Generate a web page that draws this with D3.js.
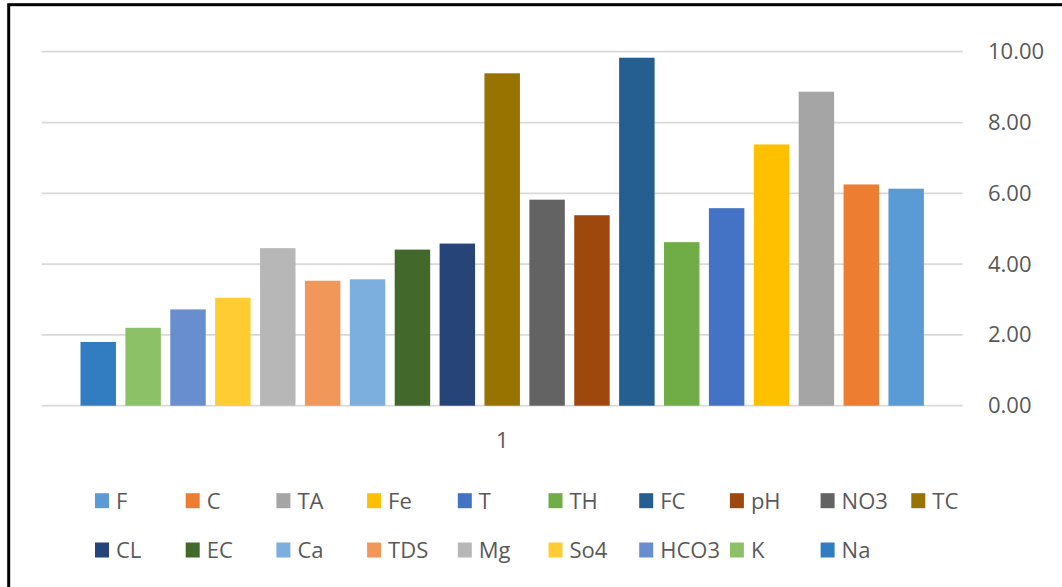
<!DOCTYPE html>
<html>
<head>
<meta charset="utf-8">
<script src="https://cdn.jsdelivr.net/npm/d3@7"></script>
<style>
  html, body { margin: 0; padding: 0; background: #fff; }
  svg { display: block; }
  text { font-family: "Open Sans", "Noto Sans", sans-serif; fill: #595959; }
</style>
</head>
<body>
<svg id="chart" width="1062" height="587"></svg>
<script>
// Parameters in legend order
const params = ["F", "C", "TA", "Fe", "T", "TH", "FC", "pH", "NO3", "TC",
                "CL", "EC", "Ca", "TDS", "Mg", "So4", "HCO3", "K", "Na"];
const values = [6.13, 6.25, 8.87, 7.38, 5.58, 4.62, 9.83, 5.38, 5.82, 9.39,
                4.58, 4.41, 3.57, 3.53, 4.45, 3.05, 2.72, 2.20, 1.80];
const colors = ["#5B9BD5", "#ED7D31", "#A5A5A5", "#FFC000", "#4472C4", "#70AD47",
                "#255E91", "#9E480E", "#636363", "#997300", "#264478", "#43682B",
                "#7CAFDD", "#F1975A", "#B7B7B7", "#FFCD33", "#698ED0", "#8CC168", "#327DC2"];
const categories = ["1"];
const yTicks = [0, 2, 4, 6, 8, 10];

const svg = d3.select("#chart");

// frame
svg.append("rect")
  .attr("x", 8.7).attr("y", 4.7)
  .attr("width", 1200).attr("height", 800)
  .attr("fill", "none").attr("stroke", "#000").attr("stroke-width", 3);

const plot = { left: 41.7, right: 962.7, top: 51.7, bottom: 405.7 };

const y = d3.scaleLinear().domain([0, 10]).range([plot.bottom, plot.top]);

const x0 = d3.scaleBand()
  .domain(categories)
  .range([plot.left, plot.right])
  .paddingInner(0)
  .paddingOuter(0.046);

// bars run in reverse legend order, left to right
const barOrder = params.slice().reverse();
const x1 = d3.scaleBand()
  .domain(barOrder)
  .range([0, x0.bandwidth()])
  .paddingInner(0.21)
  .paddingOuter(0);

// gridlines
svg.append("g")
  .selectAll("line")
  .data(yTicks)
  .join("line")
  .attr("x1", plot.left).attr("x2", plot.right)
  .attr("y1", d => y(d)).attr("y2", d => y(d))
  .attr("stroke", "#d9d9d9").attr("stroke-width", 1.75);

// right value axis
const yAxis = d3.axisRight(y).tickValues(yTicks).tickFormat(d3.format(".2f")).tickSize(0).tickPadding(0);
const gy = svg.append("g")
  .attr("transform", `translate(988,0)`)
  .call(yAxis);
gy.select(".domain").remove();
gy.selectAll("text")
  .attr("font-size", 22)
  .attr("fill", "#595959")
  .style("font-family", '"Open Sans", sans-serif');

// bars
const group = svg.append("g")
  .selectAll("g")
  .data(categories)
  .join("g")
  .attr("transform", d => `translate(${x0(d)},0)`);

group.selectAll("rect")
  .data(() => barOrder.map(p => {
    const i = params.indexOf(p);
    return { name: p, value: values[i], color: colors[i] };
  }))
  .join("rect")
  .attr("x", d => x1(d.name))
  .attr("width", x1.bandwidth())
  .attr("y", d => y(d.value))
  .attr("height", d => y(0) - y(d.value))
  .attr("fill", d => d.color);

// category label
svg.append("g")
  .selectAll("text")
  .data(categories)
  .join("text")
  .attr("x", d => x0(d) + x0.bandwidth() / 2)
  .attr("y", 440)
  .attr("dy", "0.35em")
  .attr("text-anchor", "middle")
  .attr("font-size", 22)
  .text(d => d);

// legend: two rows of ten
const legendX0 = 95, legendStep = 90.7, rowY = [500.7, 550], perRow = 10;
const legend = svg.append("g")
  .selectAll("g")
  .data(params.map((p, i) => ({ name: p, color: colors[i], i })))
  .join("g")
  .attr("transform", d => `translate(${legendX0 + (d.i % perRow) * legendStep},${rowY[Math.floor(d.i / perRow)]})`);

legend.append("rect")
  .attr("x", 0).attr("y", -7.5)
  .attr("width", 14).attr("height", 15)
  .attr("fill", d => d.color);

legend.append("text")
  .attr("x", 21)
  .attr("dy", "0.36em")
  .attr("font-size", 22)
  .text(d => d.name);
</script>
</body>
</html>
